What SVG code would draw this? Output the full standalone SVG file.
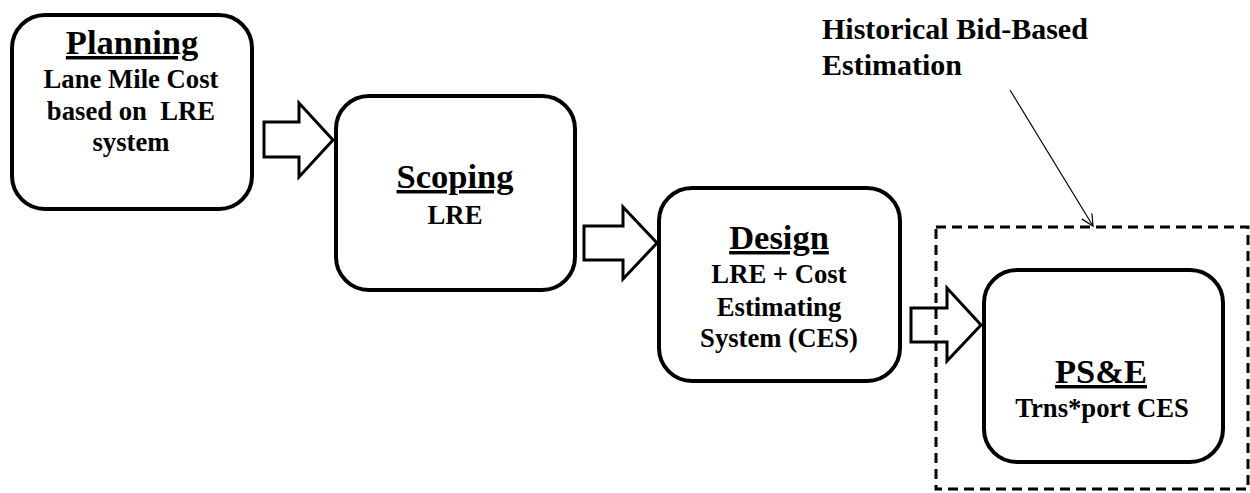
<svg xmlns="http://www.w3.org/2000/svg" width="1250" height="493" viewBox="0 0 1250 493">
<style>
.box{fill:#fff;stroke:#000;stroke-width:4}
.blk{fill:#fff;stroke:#000;stroke-width:3;stroke-linejoin:miter}
.t{font-family:"Liberation Serif","Times New Roman",serif;font-weight:bold;fill:#000;text-anchor:middle}
.title{font-size:34.5px;text-decoration:underline}
.body{font-size:26.7px}
.lab{font-family:"Liberation Serif","Times New Roman",serif;font-weight:bold;font-size:30px;fill:#000}
.dash{fill:none;stroke:#000;stroke-width:3;stroke-dasharray:10 6}
.thin{fill:none;stroke:#000;stroke-width:1.2}
</style>
<defs>
<marker id="open" markerUnits="userSpaceOnUse" markerWidth="16" markerHeight="16" refX="12" refY="6" orient="auto">
<path d="M0,0 L12,6 L0,12" fill="none" stroke="#000" stroke-width="1.2"/>
</marker>
</defs>
<rect id="background" x="0" y="0" width="1250" height="493" fill="#fff"/>
<g id="planning">
<rect class="box" x="12" y="15" width="240" height="194" rx="33"/>
<text class="t title" x="132" y="54">Planning</text>
<text class="t body" x="131" y="88">Lane Mile Cost</text>
<text class="t body" x="131" y="120" xml:space="preserve">based on  LRE</text>
<text class="t body" x="131" y="151">system</text>
</g>
<g id="scoping">
<rect class="box" x="336" y="96" width="239" height="194" rx="33"/>
<text class="t title" x="455" y="188">Scoping</text>
<text class="t body" x="455" y="224">LRE</text>
</g>
<g id="design">
<rect class="box" x="659" y="188" width="241" height="193" rx="33"/>
<text class="t title" x="779" y="249">Design</text>
<text class="t body" x="779" y="283">LRE + Cost</text>
<text class="t body" x="779" y="316">Estimating</text>
<text class="t body" x="779" y="347">System (CES)</text>
</g>
<g id="pse">
<rect class="box" x="984" y="270" width="239" height="192" rx="33"/>
<text class="t title" x="1101" y="383">PS&amp;E</text>
<text class="t body" x="1102" y="417">Trns*port CES</text>
</g>
<g id="connectors">
<polygon class="blk" points="264,122 299,122 299,103 333,140 299,177 299,157 264,157"/>
<polygon class="blk" points="584,226 623,226 623,207 657,243 623,279 623,260 584,260"/>
<polygon class="blk" points="911,308 947,308 947,288 981,325 947,361 947,342 911,342"/>
<line class="thin" x1="1010" y1="90" x2="1093" y2="226" marker-end="url(#open)"/>
</g>
<g id="historical-group">
<rect class="dash" x="936" y="227" width="312" height="262"/>
<text class="lab" x="822" y="39">Historical Bid-Based</text>
<text class="lab" x="822" y="75">Estimation</text>
</g>
</svg>
